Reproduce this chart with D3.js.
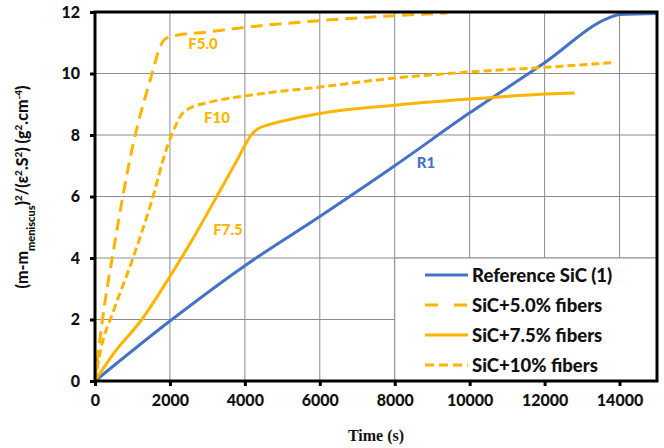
<!DOCTYPE html>
<html>
<head>
<meta charset="utf-8">
<script src="https://cdn.jsdelivr.net/npm/d3@7"></script>
<style>
  body { margin: 0; background: #fff; }
  svg { display: block; font-family: Lato, "Open Sans", sans-serif; font-weight: 900; }
</style>
</head>
<body>
<div id="chart"></div>
<script>
// values: time (s) and (m-m_meniscus)^2/(eps^2.S^2)
var timeR1 = [0, 2000, 4000, 6000, 8000, 10000, 12000, 13700, 14000, 15000];
var valR1  = [0, 1.95, 3.75, 5.35, 7.0, 8.72, 10.35, 11.8, 11.92, 11.95];

var timeF50 = [0, 200, 500, 1000, 1500, 1750, 1850, 2100, 3000, 4000, 6000, 8000, 9400];
var valF50  = [0, 2.0, 4.3, 7.6, 9.9, 10.9, 11.1, 11.22, 11.35, 11.5, 11.72, 11.88, 11.97];

var timeF75 = [0, 500, 1250, 2000, 2600, 3250, 3800, 4200, 4350, 4600, 5000, 6000, 8000, 10000, 12000, 12800];
var valF75  = [0, 0.9, 2.0, 3.4, 4.6, 6.0, 7.2, 8.05, 8.2, 8.32, 8.45, 8.7, 8.97, 9.17, 9.33, 9.37];

var timeF10 = [0, 150, 500, 1000, 1500, 1950, 2150, 2300, 2500, 3000, 4000, 6000, 8000, 10000, 12000, 13800];
var valF10  = [0, 1.0, 2.3, 3.95, 5.8, 7.7, 8.3, 8.65, 8.85, 9.05, 9.27, 9.56, 9.85, 10.05, 10.2, 10.35];

var xTicks = [0, 2000, 4000, 6000, 8000, 10000, 12000, 14000];
var yTicks = [0, 2, 4, 6, 8, 10, 12];

var legendNames = ["Reference SiC (1)", "SiC+5.0% fibers", "SiC+7.5% fibers", "SiC+10% fibers"];
var curveLabels = ["R1", "F5.0", "F7.5", "F10"];

var blue = "#4472c4", gold = "#ffb400", ink = "#111";

var W = 664, H = 448;
var m = {left: 95, top: 12, right: 7, bottom: 67};

var svg = d3.select("#chart").append("svg")
    .attr("width", W)
    .attr("height", H);

var x = d3.scaleLinear().domain([0, 15000]).range([m.left, W - m.right]);
var y = d3.scaleLinear().domain([0, 12]).range([H - m.bottom, m.top]);

// grid
svg.append("g").selectAll("line")
    .data(xTicks.slice(1))
    .enter().append("line")
    .attr("x1", d => x(d)).attr("x2", d => x(d))
    .attr("y1", y(0)).attr("y2", y(12))
    .style("stroke", "#8c8c8c").style("stroke-width", 1);
svg.append("g").selectAll("line")
    .data(yTicks.slice(1, -1))
    .enter().append("line")
    .attr("x1", x(0)).attr("x2", x(15000))
    .attr("y1", d => y(d)).attr("y2", d => y(d))
    .style("stroke", "#8c8c8c").style("stroke-width", 1);

var series = [
    {t: timeR1, v: valR1, color: blue, dash: null, legDash: null},
    {t: timeF50, v: valF50, color: gold, dash: "12,7", legDash: "13,16"},
    {t: timeF75, v: valF75, color: gold, dash: null, legDash: null},
    {t: timeF10, v: valF10, color: gold, dash: "8,4", legDash: "9,5"}
];

var line = d3.line()
    .x(d => x(d[0]))
    .y(d => y(d[1]))
    .curve(d3.curveMonotoneX);

series.forEach(function (s) {
    svg.append("path")
        .datum(s.t.map((t, i) => [t, s.v[i]]))
        .attr("d", line)
        .style("fill", "none")
        .style("stroke", s.color)
        .style("stroke-width", 3)
        .style("stroke-dasharray", s.dash);
});

// curve labels
var labelPos = [[426, 168, blue], [203, 49, gold], [228, 235, gold], [217, 123, gold]];
svg.selectAll(".clabel")
    .data(curveLabels)
    .enter().append("text")
    .attr("x", (d, i) => labelPos[i][0])
    .attr("y", (d, i) => labelPos[i][1])
    .attr("text-anchor", "middle")
    .style("font-size", "15px")
    .style("fill", (d, i) => labelPos[i][2])
    .text(d => d);

// legend
var lg = svg.append("g");
lg.append("rect")
    .attr("x", x(8000)).attr("y", y(4))
    .attr("width", x(15000) - x(8000)).attr("height", y(0) - y(4))
    .style("fill", "#fff")
    .style("stroke", "#8c8c8c").style("stroke-width", 1);
legendNames.forEach(function (name, i) {
    var yy = 275 + i * 30;
    lg.append("line")
        .attr("x1", 425).attr("x2", 468)
        .attr("y1", yy).attr("y2", yy)
        .style("stroke", series[i].color)
        .style("stroke-width", 3)
        .style("stroke-dasharray", series[i].legDash);
    lg.append("text")
        .attr("x", 472).attr("y", yy + 6.5)
        .style("font-size", "18.5px")
        .style("fill", ink)
        .text(name);
});

// frame and axes
svg.append("rect")
    .attr("x", x(0)).attr("y", y(12))
    .attr("width", x(15000) - x(0)).attr("height", y(0) - y(12))
    .style("fill", "none").style("stroke", "#000").style("stroke-width", 3);

var xAxis = svg.append("g")
    .attr("transform", "translate(0," + y(0) + ")")
    .call(d3.axisBottom(x).tickValues(xTicks).tickSize(5).tickPadding(9).tickFormat(d3.format("d")));
var yAxis = svg.append("g")
    .attr("transform", "translate(" + x(0) + ",0)")
    .call(d3.axisLeft(y).tickValues(yTicks).tickSize(5).tickPadding(10));

[xAxis, yAxis].forEach(function (a) {
    a.select(".domain").remove();
    a.selectAll(".tick line").style("stroke", "#000").style("stroke-width", 3);
    a.selectAll(".tick text")
        .style("font-family", "Lato, sans-serif")
        .style("font-weight", "900")
        .style("font-size", "16px")
        .style("fill", ink);
});

// axis titles
svg.append("text")
    .attr("x", x(7500)).attr("y", 441)
    .attr("text-anchor", "middle")
    .style("font-family", "'Liberation Serif', serif")
    .style("font-weight", "bold")
    .style("font-size", "16px")
    .style("fill", ink)
    .text("Time (s)");

var yt = svg.append("text")
    .attr("transform", "translate(28," + 187 + ") rotate(-90)")
    .attr("text-anchor", "middle")
    .style("font-size", "16px")
    .style("fill", ink);
var parts = [
    ["(m-m", 0], ["meniscus", -1], [")", 0], ["2", 1], ["/(", 0], ["\u03b5", 0], ["2", 1],
    [".S", 0], ["2", 1], [") (g", 0], ["2", 1], [".cm", 0], ["-4", 1], [")", 0]
];
parts.forEach(function (p) {
    var ts = yt.append("tspan").text(p[0]);
    if (p[1] === 1) ts.style("font-size", "10px").attr("baseline-shift", "super");
    if (p[1] === -1) ts.style("font-size", "11px").attr("baseline-shift", "sub");
});
</script>
</body>
</html>
